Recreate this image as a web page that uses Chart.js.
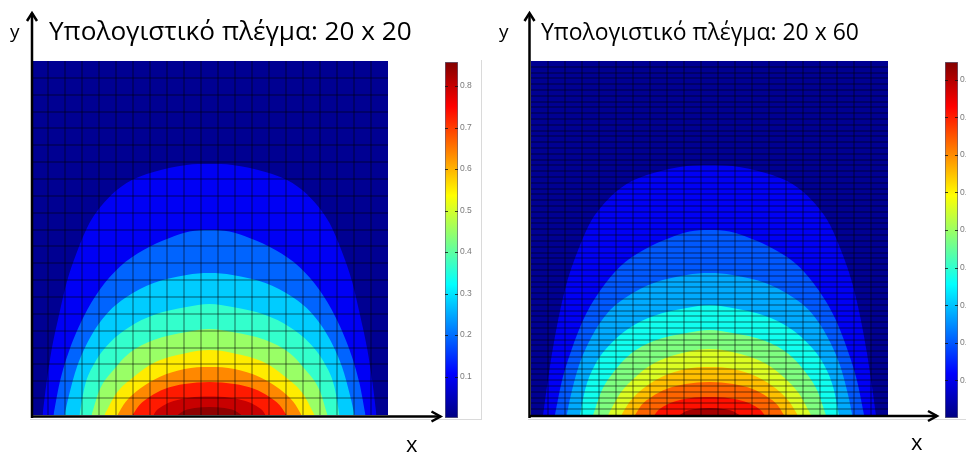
<!DOCTYPE html>
<html>
<head>
<meta charset="utf-8">
<script src="https://cdn.jsdelivr.net/npm/chart.js@4.4.1/dist/chart.umd.min.js"></script>
<style>
  html, body { margin: 0; padding: 0; background: #fff; }
  body { width: 966px; height: 452px; position: relative; overflow: hidden; font-family: "Open Sans", "Noto Sans", sans-serif; }
  canvas { position: absolute; }
  .lbl { position: absolute; white-space: nowrap; line-height: 1; color: #000; }
  .edge { position: absolute; background: #dadada; }
</style>
</head>
<body>
<div class="edge" style="left:481px;top:60px;width:1px;height:360px"></div>
<div class="edge" style="left:30px;top:419px;width:452px;height:1px"></div>
<div class="edge" style="left:528px;top:419px;width:438px;height:1px"></div>

<canvas id="plot20" width="483" height="452" style="left:0;top:0"></canvas>
<canvas id="plot60" width="483" height="452" style="left:483px;top:0"></canvas>
<canvas id="bar20" width="50" height="400" style="left:432px;top:40px"></canvas>
<canvas id="bar60" width="34" height="400" style="left:932px;top:40px"></canvas>

<div class="lbl" id="title20">Υπολογιστικό πλέγμα: 20 x 20</div>
<div class="lbl" id="title60">Υπολογιστικό πλέγμα: 20 x 60</div>
<div class="lbl" id="ylab20">y</div>
<div class="lbl" id="ylab60">y</div>
<div class="lbl" id="xlab20">x</div>
<div class="lbl" id="xlab60">x</div>

<script>
// ---------------------------------------------
// DATA  (x: cells from the centre line, y: cells above the bottom wall)
// ---------------------------------------------
const domain = [[-10.5, 20.82], [10.5, 20.82]];

// 20 x 20 mesh: contour boundaries, outer to inner
const band20_1 = [[-9.82,0],[-9.59,1.88],[-9.29,3.82],[-8.88,5.76],[-8.41,7.76],[-7.82,9.53],[-7.06,11.29],[-6.06,12.65],[-4.88,13.65],[-3.29,14.29],[-1.35,14.71],[0,14.76],[1.35,14.71],[3.29,14.29],[4.88,13.65],[6.06,12.65],[7.06,11.29],[7.82,9.53],[8.41,7.76],[8.88,5.76],[9.29,3.82],[9.59,1.88],[9.82,0]];
const band20_2 = [[-9.18,0],[-8.82,1.88],[-8.24,3.82],[-7.41,5.76],[-6.47,7.35],[-5.29,8.71],[-3.88,9.71],[-2.35,10.41],[-1.18,10.79],[0,10.88],[1.18,10.79],[2.35,10.41],[3.88,9.71],[5.29,8.71],[6.47,7.35],[7.41,5.76],[8.24,3.82],[8.82,1.88],[9.18,0]];
const band20_3 = [[-8.53,0],[-8.29,1.06],[-7.8,2.82],[-7.0,4.59],[-6.0,6.0],[-4.88,6.94],[-3.29,7.76],[-1.35,8.24],[0,8.35],[1.35,8.24],[3.29,7.76],[4.88,6.94],[6.0,6.0],[7.0,4.59],[7.8,2.82],[8.29,1.06],[8.53,0]];
const band20_4 = [[-7.65,0],[-7.35,1.65],[-6.76,3.06],[-5.88,4.24],[-4.71,5.18],[-3.29,5.88],[-1.35,6.35],[0,6.53],[1.35,6.35],[3.29,5.88],[4.71,5.18],[5.88,4.24],[6.76,3.06],[7.35,1.65],[7.65,0]];
const band20_5 = [[-6.94,0],[-6.47,1.47],[-5.65,2.65],[-4.71,3.65],[-3.29,4.41],[-1.35,4.88],[0,5.06],[1.35,4.88],[3.29,4.41],[4.71,3.65],[5.65,2.65],[6.47,1.47],[6.94,0]];
const band20_6 = [[-6.18,0],[-5.47,1.29],[-4.47,2.24],[-3.29,3.06],[-1.35,3.65],[0,3.82],[1.35,3.65],[3.29,3.06],[4.47,2.24],[5.47,1.29],[6.18,0]];
const band20_7 = [[-5.41,0],[-4.94,0.76],[-4.12,1.53],[-2.94,2.24],[-1.47,2.71],[0,2.82],[1.47,2.71],[2.94,2.24],[4.12,1.53],[4.94,0.76],[5.41,0]];
const band20_8 = [[-4.53,0],[-4.12,0.59],[-3.53,1.06],[-2.65,1.53],[-1.47,1.82],[0,1.94],[1.47,1.82],[2.65,1.53],[3.53,1.06],[4.12,0.59],[4.53,0]];
const band20_9 = [[-3.29,0],[-3.12,0.26],[-2.76,0.53],[-2.12,0.82],[-1.18,1.02],[0,1.09],[1.18,1.02],[2.12,0.82],[2.76,0.53],[3.12,0.26],[3.29,0]];
const band20_10 = [[-1.88,0],[-1.47,0.26],[-0.88,0.41],[0,0.47],[0.88,0.41],[1.47,0.26],[1.88,0]];

// 20 x 60 mesh
const band60_1 = [[-9.79,0],[-9.53,1.88],[-9.24,3.76],[-8.88,5.71],[-8.41,7.71],[-7.82,9.47],[-7.06,11.24],[-6.06,12.59],[-4.88,13.59],[-3.29,14.24],[-1.35,14.65],[0,14.71],[1.35,14.65],[3.29,14.24],[4.88,13.59],[6.06,12.59],[7.06,11.24],[7.82,9.47],[8.41,7.71],[8.88,5.71],[9.24,3.76],[9.53,1.88],[9.79,0]];
const band60_2 = [[-9.09,0],[-8.71,1.88],[-8.12,3.82],[-7.35,5.76],[-6.41,7.35],[-5.29,8.71],[-3.88,9.71],[-2.35,10.41],[-1.18,10.79],[0,10.88],[1.18,10.79],[2.35,10.41],[3.88,9.71],[5.29,8.71],[6.41,7.35],[7.35,5.76],[8.12,3.82],[8.71,1.88],[9.09,0]];
const band60_3 = [[-8.4,0],[-8.18,1.06],[-7.71,2.82],[-6.94,4.59],[-6.0,6.0],[-4.88,6.94],[-3.29,7.76],[-1.35,8.24],[0,8.35],[1.35,8.24],[3.29,7.76],[4.88,6.94],[6.0,6.0],[6.94,4.59],[7.71,2.82],[8.18,1.06],[8.4,0]];
const band60_4 = [[-7.62,0],[-7.29,1.59],[-6.71,3.0],[-5.82,4.18],[-4.71,5.12],[-3.29,5.82],[-1.35,6.29],[0,6.47],[1.35,6.29],[3.29,5.82],[4.71,5.12],[5.82,4.18],[6.71,3.0],[7.29,1.59],[7.62,0]];
const band60_5 = [[-6.85,0],[-6.35,1.41],[-5.59,2.59],[-4.65,3.59],[-3.29,4.35],[-1.35,4.82],[0,5.0],[1.35,4.82],[3.29,4.35],[4.65,3.59],[5.59,2.59],[6.35,1.41],[6.85,0]];
const band60_6 = [[-5.97,0],[-5.24,1.29],[-4.35,2.24],[-3.24,3.06],[-1.35,3.71],[0,3.88],[1.35,3.71],[3.24,3.06],[4.35,2.24],[5.24,1.29],[5.97,0]];
const band60_7 = [[-5.18,0],[-4.71,0.76],[-3.94,1.53],[-2.82,2.24],[-1.41,2.71],[0,2.82],[1.41,2.71],[2.82,2.24],[3.94,1.53],[4.71,0.76],[5.18,0]];
const band60_8 = [[-4.38,0],[-4.0,0.59],[-3.41,1.06],[-2.53,1.53],[-1.41,1.82],[0,1.94],[1.41,1.82],[2.53,1.53],[3.41,1.06],[4.0,0.59],[4.38,0]];
const band60_9 = [[-3.24,0],[-3.06,0.24],[-2.71,0.5],[-2.06,0.79],[-1.18,0.99],[0,1.06],[1.18,0.99],[2.06,0.79],[2.71,0.5],[3.06,0.24],[3.24,0]];
const band60_10 = [[-1.76,0],[-1.35,0.24],[-0.82,0.35],[0,0.41],[0.82,0.35],[1.35,0.24],[1.76,0]];

const bandColors20 = ['#000092', '#0000f5', '#0064ff', '#00ccff', '#33ffcc', '#99ff66', '#ffec00', '#ff8800', '#ff1a00', '#c80000', '#8f0000'];
const bandColors60 = ['#000092', '#0000f5', '#0058ff', '#00aaff', '#10ffef', '#7fff80', '#dcff23', '#ffc000', '#ff6400', '#ff1000', '#a60000'];

// mesh lines (cells across x cells up, as drawn)
const meshCols = 21;
const meshRows20 = 21;
const meshRows60 = 61;

// colour bars
const barMax20 = 0.858;
const barTicks20 = [0.1, 0.2, 0.3, 0.4, 0.5, 0.6, 0.7, 0.8];
const barMax60 = 0.947;
const barTicks60 = [0.1, 0.2, 0.3, 0.4, 0.5, 0.6, 0.7, 0.8, 0.9];
const jetStops = [[0, '#000080'], [0.125, '#0000ff'], [0.375, '#00ffff'], [0.625, '#ffff00'], [0.875, '#ff0000'], [1, '#800000']];

// ---------------------------------------------
// PLUGINS
// ---------------------------------------------
const arrowPlugin = {
  id: 'arrows',
  afterDraw(chart, args, o) {
    const c = chart.ctx;
    c.save();
    c.strokeStyle = '#000';
    c.lineWidth = 2.5;
    c.lineJoin = 'miter';
    // y axis
    c.beginPath();
    c.moveTo(o.ax, o.yBot);
    c.lineTo(o.ax, o.yTop);
    c.stroke();
    c.beginPath();
    c.moveTo(o.ax - 5, o.yTop + 8);
    c.lineTo(o.ax, o.yTop);
    c.lineTo(o.ax + 5, o.yTop + 8);
    c.stroke();
    // x axis
    c.beginPath();
    c.moveTo(o.ax, o.ay);
    c.lineTo(o.xEnd, o.ay);
    c.stroke();
    c.beginPath();
    c.moveTo(o.xEnd - 9, o.ay - 5);
    c.lineTo(o.xEnd, o.ay);
    c.lineTo(o.xEnd - 9, o.ay + 5);
    c.stroke();
    c.restore();
  }
};

const barTickPlugin = {
  id: 'barTicks',
  afterDatasetsDraw(chart) {
    const s = chart.scales.y, a = chart.chartArea, c = chart.ctx;
    c.save();
    c.strokeStyle = 'rgba(20,20,20,0.8)';
    c.lineWidth = 1;
    s.ticks.forEach(t => {
      const y = Math.round(s.getPixelForValue(t.value)) + 0.5;
      c.beginPath();
      c.moveTo(a.left, y); c.lineTo(a.left + 3, y);
      c.moveTo(a.right - 3, y); c.lineTo(a.right, y);
      c.stroke();
    });
    c.restore();
  }
};

// ---------------------------------------------
// CHARTS
// ---------------------------------------------
const gridColor = 'rgba(0,0,0,0.28)';

// one grid line per mesh line, inner lines only
function meshGrid(axis, count, position) {
  return {
    axis, position, type: 'linear', min: 0, max: count,
    afterBuildTicks: s => {
      s.ticks = [];
      for (let i = 1; i < count; i++) s.ticks.push({ value: i });
    },
    ticks: { display: false, maxTicksLimit: 1000 },
    border: { display: false },
    grid: { z: 1, drawTicks: false, lineWidth: 2, color: gridColor }
  };
}

function contourChart(id, bands, colors, rows, padding, arrows) {
  return new Chart(document.getElementById(id), {
    type: 'line',
    data: {
      datasets: bands.map((pts, i) => ({
        data: pts.map(p => ({ x: p[0], y: p[1] })),
        xAxisID: 'x',
        yAxisID: 'y',
        fill: 'origin',
        backgroundColor: colors[i],
        borderColor: colors[i],
        borderWidth: 0,
        pointRadius: 0,
        cubicInterpolationMode: 'monotone',
        order: bands.length - i
      }))
    },
    options: {
      responsive: false,
      animation: false,
      devicePixelRatio: 1,
      events: [],
      layout: { padding },
      scales: {
        x: { type: 'linear', min: -10.5, max: 10.5, display: false },
        y: { type: 'linear', min: 0, max: 20.82, display: false },
        xg: meshGrid('x', meshCols, 'bottom'),
        yg: meshGrid('y', rows, 'left')
      },
      plugins: {
        legend: { display: false },
        tooltip: { enabled: false },
        arrows
      }
    },
    plugins: [arrowPlugin]
  });
}

function colorBar(id, max, ticks, axisWidth, padding) {
  return new Chart(document.getElementById(id), {
    type: 'bar',
    data: {
      labels: [''],
      datasets: [{
        data: [[0, max]],
        barPercentage: 1,
        categoryPercentage: 1,
        borderWidth: 1,
        borderSkipped: false,
        borderColor: 'rgba(70,70,100,0.85)',
        backgroundColor: ctx => {
          const a = ctx.chart.chartArea;
          if (!a) return '#000080';
          const g = ctx.chart.ctx.createLinearGradient(0, a.bottom, 0, a.top);
          jetStops.forEach(([p, col]) => g.addColorStop(p, col));
          return g;
        }
      }]
    },
    options: {
      responsive: false,
      animation: false,
      devicePixelRatio: 1,
      events: [],
      layout: { padding },
      scales: {
        x: { display: false },
        y: {
          position: 'right', min: 0, max,
          afterBuildTicks: s => { s.ticks = ticks.map(v => ({ value: v })); },
          afterFit: s => { s.width = axisWidth; },
          grid: { display: false, drawTicks: false },
          border: { display: false },
          ticks: {
            padding: 2,
            color: '#7a7a7a',
            font: { family: 'Liberation Sans', size: 8.5 },
            callback: v => v.toFixed(1)
          }
        }
      },
      plugins: { legend: { display: false }, tooltip: { enabled: false } }
    },
    plugins: [barTickPlugin]
  });
}

contourChart('plot20',
  [domain, band20_1, band20_2, band20_3, band20_4, band20_5, band20_6, band20_7, band20_8, band20_9, band20_10],
  bandColors20, meshRows20,
  { left: 31, right: 95, top: 61, bottom: 37 },
  { ax: 32, yTop: 13, yBot: 418, ay: 416.5, xEnd: 440.5 });

contourChart('plot60',
  [domain, band60_1, band60_2, band60_3, band60_4, band60_5, band60_6, band60_7, band60_8, band60_9, band60_10],
  bandColors60, meshRows60,
  { left: 48, right: 78, top: 61, bottom: 37 },
  { ax: 46.5, yTop: 13, yBot: 418, ay: 416, xEnd: 454 });

colorBar('bar20', barMax20, barTicks20, 20, { left: 13, right: 4, top: 22, bottom: 22 });
colorBar('bar60', barMax60, barTicks60, 8, { left: 13, right: 0, top: 22, bottom: 22 });

// ---------------------------------------------
// TEXT
// ---------------------------------------------
function place(id, left, baseline, size, width) {
  const el = document.getElementById(id);
  el.style.fontSize = size + 'px';
  if (width) {
    size = size * width / el.getBoundingClientRect().width;
    el.style.fontSize = size + 'px';
  }
  el.style.left = left + 'px';
  el.style.top = (baseline - 0.888 * size) + 'px';
}

place('title20', 49, 40, 22, 363);
place('title60', 541, 40, 20, 318);
place('ylab20', 10, 39, 19);
place('ylab60', 499, 39, 19);
place('xlab20', 406, 451.5, 22);
place('xlab60', 911, 450, 22);
</script>
</body>
</html>
